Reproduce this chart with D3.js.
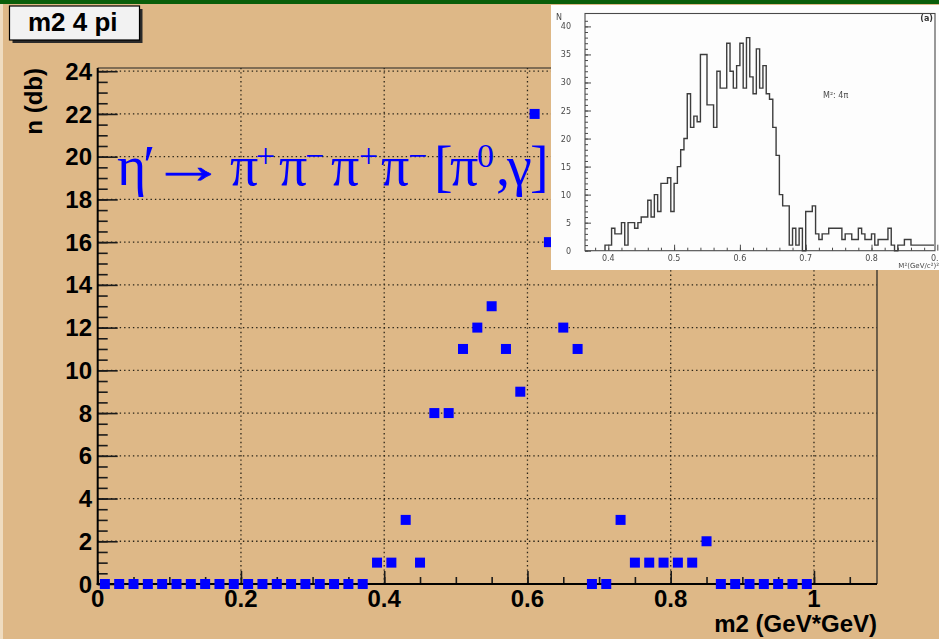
<!DOCTYPE html>
<html>
<head>
<meta charset="utf-8">
<script src="https://cdn.jsdelivr.net/npm/d3@7"></script>
<style>
  html, body { margin: 0; padding: 0; background: #deb887; }
  svg { display: block; }
</style>
</head>
<body>
<svg id="chart" width="939" height="639"></svg>
<script>
// m2 histogram: bin centres (GeV*GeV) and counts per bin
const m2 = [0.01, 0.03, 0.05, 0.07, 0.09, 0.11, 0.13, 0.15, 0.17, 0.19,
            0.21, 0.23, 0.25, 0.27, 0.29, 0.31, 0.33, 0.35, 0.37, 0.39,
            0.41, 0.43, 0.45, 0.47, 0.49, 0.51, 0.53, 0.55, 0.57, 0.59,
            0.61, 0.63, 0.65, 0.67, 0.69, 0.71, 0.73, 0.75, 0.77, 0.79,
            0.81, 0.83, 0.85, 0.87, 0.89, 0.91, 0.93, 0.95, 0.97, 0.99];
const counts = [0, 0, 0, 0, 0, 0, 0, 0, 0, 0,
                0, 0, 0, 0, 0, 0, 0, 0, 0, 1,
                1, 3, 1, 8, 8, 11, 12, 13, 11, 9,
                22, 16, 12, 11, 0, 0, 3, 1, 1, 1,
                1, 1, 2, 0, 0, 0, 0, 0, 0, 0];

const xTicks = [0, 0.2, 0.4, 0.6, 0.8, 1];
const xTickLabels = ["0", "0.2", "0.4", "0.6", "0.8", "1"];
const yTicks = [0, 2, 4, 6, 8, 10, 12, 14, 16, 18, 20, 22, 24];
const yTickLabels = ["0", "2", "4", "6", "8", "10", "12", "14", "16", "18", "20", "22", "24"];

// published M^2 (4 pi) spectrum shown in the corner panel
const refStart = 0.395;
const refWidth = 0.005;
const refCounts = [1, 1, 4, 3, 3, 5, 1, 5, 5, 4,
                   5, 6, 6, 9, 6, 10, 7, 12, 12, 13,
                   7, 12, 15, 18, 20, 28, 22, 24, 23, 35,
                   35, 26, 26, 22, 32, 29, 29, 37, 32, 29,
                   33, 37, 29, 38, 31, 28, 36, 29, 33, 28,
                   27, 22, 17, 10, 8, 8, 1, 4, 1, 4,
                   0, 7, 7, 8, 3, 2, 3, 3, 4, 4,
                   4, 4, 2, 3, 3, 2, 2, 4, 3, 2,
                   2, 3, 1, 2, 2, 2, 4, 1, 0, 1,
                   1, 2, 2, 1, 1, 1, 1, 1, 1, 1];
const refXTicks = [0.4, 0.5, 0.6, 0.7, 0.8, 0.9];
const refXTickLabels = ["0.4", "0.5", "0.6", "0.7", "0.8", "0.9"];
const refYTicks = [0, 5, 10, 15, 20, 25, 30, 35, 40];
const refYTickLabels = ["0", "5", "10", "15", "20", "25", "30", "35", "40"];

const svg = d3.select("#chart");
const W = 939, H = 639;
const sansBold = "'Liberation Sans', Arial, Helvetica, sans-serif";

// page background
svg.append("rect").attr("width", W).attr("height", H).attr("fill", "#deb887");
svg.append("rect").attr("x", 0).attr("y", 0).attr("width", 3).attr("height", H).attr("fill", "#efdcc0");
svg.append("rect").attr("x", 0).attr("y", 0).attr("width", W).attr("height", 4).attr("fill", "#0a5e0a");

// frame and scales
const frame = { left: 97.7, right: 877, top: 68, bottom: 584 };
const x = d3.scaleLinear().domain([0, 1.088]).range([frame.left, frame.right]);
const y = d3.scaleLinear().domain([0, 24.15]).range([frame.bottom, frame.top]);

// dotted grid
const grid = svg.append("g").attr("stroke", "#2a2418").attr("stroke-width", 1.3)
  .attr("stroke-dasharray", "1.4,3").attr("fill", "none");
grid.selectAll("line.gy").data(yTicks.filter(d => d > 0)).join("line")
  .attr("x1", frame.left).attr("x2", frame.right)
  .attr("y1", d => y(d)).attr("y2", d => y(d));
grid.selectAll("line.gx").data(xTicks.filter(d => d > 0)).join("line")
  .attr("y1", frame.bottom).attr("y2", frame.top)
  .attr("x1", d => x(d)).attr("x2", d => x(d));

// frame top/right
svg.append("path")
  .attr("d", `M${frame.left},${frame.top}H${frame.right}V${frame.bottom}`)
  .attr("fill", "none").attr("stroke", "#222").attr("stroke-width", 1.2);

// y axis with major/minor ticks pointing inward
const yAxis = d3.axisRight(y).tickValues(yTicks).tickSize(20).tickFormat("");
const yMinor = d3.axisRight(y).tickValues(d3.range(0, 24.01, 0.5)).tickSize(10).tickFormat("");
[yMinor, yAxis].forEach(ax => {
  const g = svg.append("g").attr("transform", `translate(${frame.left},0)`).call(ax);
  g.select(".domain").remove();
  g.selectAll(".tick line").attr("stroke", "#1a1a1a").attr("stroke-width", 1.6);
});

// x axis ticks pointing inward
const xAxis = d3.axisTop(x).tickValues(xTicks).tickSize(13).tickFormat("");
const xMinor = d3.axisTop(x).tickValues(d3.range(0, 1.081, 0.05)).tickSize(7).tickFormat("");
[xMinor, xAxis].forEach(ax => {
  const g = svg.append("g").attr("transform", `translate(0,${frame.bottom})`).call(ax);
  g.select(".domain").remove();
  g.selectAll(".tick line").attr("stroke", "#1a1a1a").attr("stroke-width", 1.6);
});

// axis lines
svg.append("line").attr("x1", frame.left).attr("x2", frame.left)
  .attr("y1", frame.top).attr("y2", frame.bottom + 1).attr("stroke", "#000").attr("stroke-width", 2);
svg.append("line").attr("x1", frame.left - 1).attr("x2", frame.right)
  .attr("y1", frame.bottom).attr("y2", frame.bottom).attr("stroke", "#000").attr("stroke-width", 2);

// tick labels
svg.append("g").selectAll("text").data(yTicks).join("text")
  .attr("x", 92).attr("y", d => y(d) + 8.6)
  .attr("text-anchor", "end")
  .attr("font-family", sansBold).attr("font-weight", "bold").attr("font-size", 24)
  .attr("fill", "#000")
  .text((d, i) => yTickLabels[i]);
svg.append("g").selectAll("text").data(xTicks).join("text")
  .attr("x", d => x(d)).attr("y", 607)
  .attr("text-anchor", "middle")
  .attr("font-family", sansBold).attr("font-weight", "bold").attr("font-size", 24)
  .attr("fill", "#000")
  .text((d, i) => xTickLabels[i]);

// axis titles
svg.append("text")
  .attr("transform", `translate(42,${frame.top}) rotate(-90)`)
  .attr("text-anchor", "end")
  .attr("font-family", sansBold).attr("font-weight", "bold").attr("font-size", 24)
  .text("n (db)");
svg.append("text")
  .attr("x", frame.right).attr("y", 632)
  .attr("text-anchor", "end")
  .attr("font-family", sansBold).attr("font-weight", "bold").attr("font-size", 24)
  .text("m2 (GeV*GeV)");

// markers
svg.append("g").selectAll("rect").data(m2).join("rect")
  .attr("x", d => x(d) - 5).attr("y", (d, i) => y(counts[i]) - 5)
  .attr("width", 10).attr("height", 10)
  .attr("fill", "#0000ff");

// decay formula, one glyph run per piece
const serif = "'Liberation Serif', 'Times New Roman', Times, serif";
const base = 185, raised = 167;
const pieces = [
  { t: "\u03B7", x: 117, s: 56, y: base },
  { t: "\u2032", x: 143, s: 56, y: base },
  { t: "\u03C0", x: 230, s: 56, y: base },
  { t: "+", x: 256, s: 34, y: raised },
  { t: "\u03C0", x: 279, s: 56, y: base },
  { t: "\u2212", x: 305, s: 34, y: raised },
  { t: "\u03C0", x: 331, s: 56, y: base },
  { t: "+", x: 359, s: 34, y: raised },
  { t: "\u03C0", x: 381, s: 56, y: base },
  { t: "\u2212", x: 408, s: 34, y: raised },
  { t: "[", x: 434, s: 56, y: base },
  { t: "\u03C0", x: 450, s: 56, y: base },
  { t: "0", x: 477, s: 34, y: raised },
  { t: ",", x: 496, s: 56, y: base },
  { t: "\u03B3", x: 507, s: 56, y: base },
  { t: "]", x: 530, s: 56, y: base }
];
const f = svg.append("text").attr("font-family", serif).attr("fill", "#0000ff");
pieces.forEach(p => f.append("tspan").attr("x", p.x).attr("y", p.y).attr("font-size", p.s).text(p.t));
// long arrow, stretched horizontally
svg.append("text")
  .attr("transform", "translate(151,183) scale(1.45,1)")
  .attr("font-family", serif).attr("font-size", 52).attr("fill", "#0000ff")
  .attr("stroke", "#0000ff").attr("stroke-width", 0.6)
  .text("\u2192");

// title box with drop shadow
svg.append("rect").attr("x", 12.5).attr("y", 9).attr("width", 130).attr("height", 34).attr("fill", "#2a2a2a");
svg.append("rect").attr("x", 9.5).attr("y", 6).attr("width", 130).attr("height", 34)
  .attr("fill", "#f2f2f2").attr("stroke", "#000").attr("stroke-width", 1.2);
svg.append("text").attr("x", 28).attr("y", 31)
  .attr("font-family", sansBold).attr("font-weight", "bold").attr("font-size", 26)
  .text("m2 4 pi");

// ---- corner panel: published spectrum ----
const defs = svg.append("defs");
defs.append("clipPath").attr("id", "panelClip")
  .append("rect").attr("x", 551).attr("y", 5).attr("width", 388).attr("height", 265);
defs.append("filter").attr("id", "soft").append("feGaussianBlur").attr("stdDeviation", 0.45);

const panel = svg.append("g").attr("clip-path", "url(#panelClip)");
panel.append("rect").attr("x", 551).attr("y", 5).attr("width", 388).attr("height", 265).attr("fill", "#fdfdfd");
const pg = panel.append("g").attr("filter", "url(#soft)");

const pf = { left: 585, right: 935, top: 13.5, bottom: 250.7 };
const rx = d3.scaleLinear().domain([0.3646, 0.8965]).range([pf.left, pf.right]);
const ry = d3.scaleLinear().domain([0, 42.3]).range([pf.bottom, pf.top]);
const ink = "#4a4a4a";
const small = "'DejaVu Sans', 'Liberation Sans', Arial, sans-serif";

pg.append("rect").attr("x", pf.left).attr("y", pf.top)
  .attr("width", pf.right - pf.left).attr("height", pf.bottom - pf.top)
  .attr("fill", "none").attr("stroke", ink).attr("stroke-width", 1.1);

const ryMaj = d3.axisRight(ry).tickValues(refYTicks).tickSize(6).tickFormat("");
const ryMin = d3.axisRight(ry).tickValues(d3.range(0, 42, 1)).tickSize(3).tickFormat("");
[ryMin, ryMaj].forEach(ax => {
  const g = pg.append("g").attr("transform", `translate(${pf.left},0)`).call(ax);
  g.select(".domain").remove();
  g.selectAll(".tick line").attr("stroke", ink).attr("stroke-width", 1);
});
const rxMaj = d3.axisTop(rx).tickValues(refXTicks).tickSize(6).tickFormat("");
const rxMin = d3.axisTop(rx).tickValues(d3.range(0.38, 0.9, 0.02)).tickSize(3).tickFormat("");
[rxMin, rxMaj].forEach(ax => {
  const g = pg.append("g").attr("transform", `translate(0,${pf.bottom})`).call(ax);
  g.select(".domain").remove();
  g.selectAll(".tick line").attr("stroke", ink).attr("stroke-width", 1);
});

pg.append("g").selectAll("text").data(refYTicks).join("text")
  .attr("x", 571).attr("y", d => ry(d) + 3)
  .attr("text-anchor", "end").attr("font-family", small).attr("font-size", 8)
  .attr("fill", ink).text((d, i) => refYTickLabels[i]);
pg.append("g").selectAll("text").data(refXTicks).join("text")
  .attr("x", d => rx(d)).attr("y", 261)
  .attr("text-anchor", "middle").attr("font-family", small).attr("font-size", 8)
  .attr("fill", ink).text((d, i) => refXTickLabels[i]);

// step outline of the histogram
let d = `M${rx(refStart)},${ry(0)}`;
refCounts.forEach((c, i) => {
  d += `V${ry(c)}H${rx(refStart + (i + 1) * refWidth)}`;
});
pg.append("path").attr("d", d).attr("fill", "none")
  .attr("stroke", "#3c3c3c").attr("stroke-width", 1.4);

pg.append("text").attr("x", 556).attr("y", 20).attr("font-family", small).attr("font-size", 8)
  .attr("fill", ink).text("N");
pg.append("text").attr("x", 933).attr("y", 21).attr("text-anchor", "end")
  .attr("font-family", small).attr("font-weight", "bold").attr("font-size", 8)
  .attr("fill", "#333").text("(a)");
pg.append("text").attr("x", 823).attr("y", 98).attr("font-family", small).attr("font-size", 8)
  .attr("fill", ink).text("M\u00B2: 4\u03C0");
pg.append("text").attr("x", 939).attr("y", 268).attr("text-anchor", "end")
  .attr("font-family", small).attr("font-size", 7)
  .attr("fill", ink).text("M\u00B2(GeV/c\u00B2)\u00B2");
</script>
</body>
</html>
